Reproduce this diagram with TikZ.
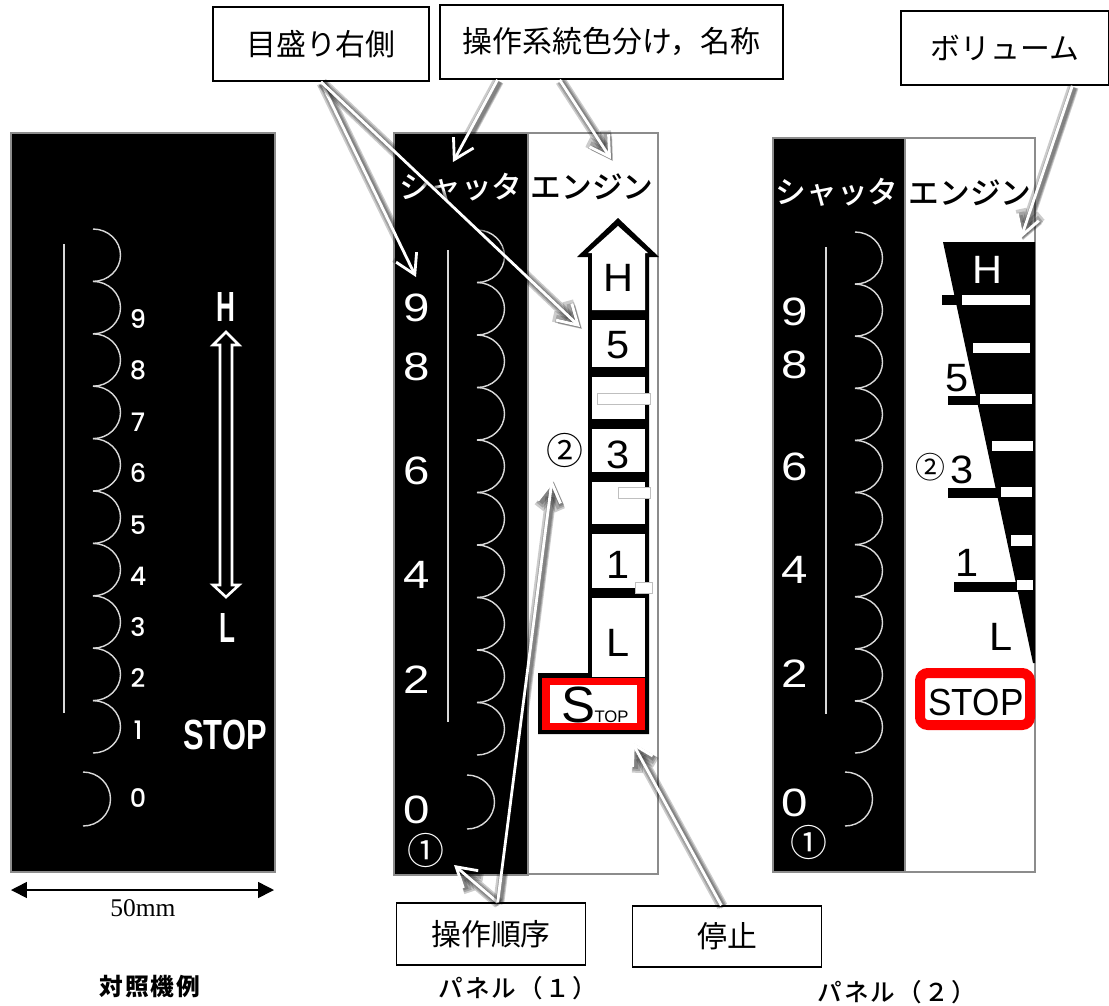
\documentclass[tikz,border=0pt]{standalone}
\usepackage{fontspec}
\setmainfont{Liberation Sans}
\newfontfamily\serifnum{Liberation Serif}
\newfontfamily\jpfont{Noto Sans CJK JP}
\newfontfamily\jpmed{Noto Sans CJK JP Medium}
\newfontfamily\roundfont{Poppins Medium}
\usetikzlibrary{arrows.meta,calc}
\newcommand{\fs}[1]{\fontsize{#1}{#1}\selectfont}
\newcommand{\scallops}[3]{\foreach \k in {0,...,9} {\draw[scaleline] (#1,#2+#3*\k) arc[start angle=-90,end angle=90,x radius=27.5,y radius=#3/2];}}
\newcommand{\whitearrow}[2]{
\foreach \w/\o in {11/1,8/1.5,5/2} {\draw[black,opacity=0.2,line width=\w*0.567pt,-{Straight Barb[length=10pt,width=12pt]}] ([shift={(\o,\o)}]#1) -- ([shift={(\o,\o)}]#2);}
\draw[white,line width=1.6pt,-{Straight Barb[length=11pt,width=13pt]}] (#1) -- (#2);}
\tikzset{x=0.02cm,y=-0.02cm,
  panel/.style={draw=black!45,fill=black,line width=0.6pt},
  frame/.style={draw=black!45,fill=white,line width=0.6pt},
  scaleline/.style={draw=white!85!black,line width=0.8pt},
  callout/.style={draw=black,fill=white,line width=1.1pt,inner sep=0pt,font=\jpfont\fs{17}},
  caption/.style={inner sep=0pt,anchor=west,font=\jpmed\fs{14}\addfontfeature{LetterSpace=9}},
  bigdig/.style={inner sep=0pt,xscale=1.2,transform shape,font=\fs{22.5}},
  smalldig/.style={inner sep=0pt,white,font=\roundfont\fs{14.5}},
  tallfont/.style={inner sep=0pt,white,xscale=0.62,transform shape,font=\bfseries\fs{24}},
  setnum/.style={inner sep=0pt,xscale=1.05,transform shape,font=\fs{22.5}},
  wedgebar/.style={fill=white,draw=none},
  ringnum/.style={inner sep=0pt,font=\jpfont\fs{21}},
  kana/.style={inner sep=0pt,font=\jpmed\fs{17.5}}}

\begin{document}
\begin{tikzpicture}
\useasboundingbox (0,0) rectangle (1109,1005);

% comparison panel
\draw[panel] (11,133) rectangle (275,872);
\draw[scaleline] (64,244) -- (64,713);
\scallops{93}{229}{52.4}
\draw[scaleline] (83,772) arc[start angle=-90,end angle=90,x radius=27.5,y radius=27];
\foreach \n/\y in {9/319,8/370,7/422,6/473,5/525,4/576,3/627,2/678,1/730,0/798} {\node[smalldig] (adig\n) at (138,\y) {\n};}
\node[tallfont] (aH) at (226,307) {H};
\node[tallfont] (aL) at (227,628) {L};
\node[tallfont,xscale=1.18] (aSTOP) at (225,735) {STOP};
\draw[white,line width=1.5pt] (226,332) -- (239,345) -- (232,345) -- (232,585) -- (239,585) -- (226,597) -- (213,585) -- (220,585) -- (220,345) -- (213,345) -- cycle;
\coordinate (aleft) at (11,890);
\coordinate (aright) at (274,890);
\draw[black,line width=0.9pt,{Triangle[length=9pt,width=9pt]}-{Triangle[length=9pt,width=9pt]}] (aleft) -- (aright);
\node[inner sep=0pt,font=\serifnum\fs{14.5}] (awidth) at (143,908) {50mm};
\node[inner sep=0pt,font=\jpfont\bfseries\fs{13.5}\addfontfeature{LetterSpace=8}] (acap) at (150,987) {対照機例};

% panel 1
\draw[frame] (394,133) rectangle (658,874);
\draw[panel] (394,133) rectangle (528,875);
\draw[scaleline] (448,250) -- (448,722);
\scallops{477}{230}{52.5}
\draw[scaleline] (467,775) arc[start angle=-90,end angle=90,x radius=27.5,y radius=27];
\foreach \n/\y in {9/308,8/367,6/471,4/575,2/680,0/810} {\node[bigdig,white] (bdig\n) at (417,\y) {\n};}
\node[ringnum,white] (bone) at (426,850) {①};
\node[kana,white] (bshut) at (461,187) {シャッタ};
\node[kana] (beng) at (592,187) {エンジン};
\node[ringnum] (btwo) at (565,450) {②};

\fill[black] (618,218) -- (659,257) -- (649,257) -- (649,734) -- (538,734) -- (538,673) -- (588,673) -- (588,257) -- (577,257) -- cycle;
\fill[white] (618,226) -- (648,253) -- (645,253) -- (645,310) -- (592,310) -- (592,253) -- (588,253) -- cycle;
\foreach \a/\b in {320/367,377/419,429/472,482/524,534/588,598/677} {\fill[white] (592,\a) rectangle (645,\b);}
\fill[white] (548,684) rectangle (639,724);
\draw[red,line width=4.4pt] (546,681.5) rectangle (641,726.5);
\foreach \x/\y/\r in {597/393/650,618/487/650,635/582/652} {\draw[black!25,fill=white,line width=0.5pt] (\x,\y) rectangle (\r,\y+11);}
\foreach \n/\y in {H/278,5/345,3/455,1/565,L/643} {\node[setnum] (bset\n) at (618,\y) {\n};}
\node[inner sep=0pt,anchor=base] (bstop) at (595,722) {\fs{29}S\kern-0.5pt\fs{9.5}TOP};

% panel 2
\draw[frame] (773,138) rectangle (1035,872);
\draw[panel] (773,138) rectangle (905,872);
\draw[scaleline] (826,247) -- (826,714);
\scallops{855}{232}{52.1}
\draw[scaleline] (845,772) arc[start angle=-90,end angle=90,x radius=27.5,y radius=27];
\foreach \n/\y in {9/312,8/365,6/467,4/570,2/674,0/803} {\node[bigdig,white] (cdig\n) at (795,\y) {\n};}
\node[ringnum,white] (cone) at (809,842) {①};
\node[kana,white] (cshut) at (837,192) {シャッタ};
\node[kana] (ceng) at (970,193) {エンジン};

\fill[black] (943,242) -- (1035,242) -- (1035,663) -- (1033,663) -- cycle;
\fill[black] (942,295) rectangle (958,305);
\fill[black] (948,396) rectangle (982,405);
\fill[black] (948,488) rectangle (1002,498);
\fill[black] (954,582) rectangle (1018,592);
\fill[wedgebar] (962,295) rectangle (1030,305);
\fill[wedgebar] (973,343) rectangle (1030,353);
\fill[wedgebar] (980,394) rectangle (1032,404);
\fill[wedgebar] (992,441) rectangle (1033,451);
\fill[wedgebar] (1001,487) rectangle (1032,497);
\fill[wedgebar] (1011,535) rectangle (1032,546);
\fill[wedgebar] (1017,580) rectangle (1033,590);
\node[setnum,white] (cH) at (987,270) {H};
\node[setnum] (cfive) at (957,378) {5};
\node[setnum] (cthree) at (962,470) {3};
\node[setnum] (cun) at (967,563) {1};
\node[setnum] (cL) at (1001,637) {L};
\node[ringnum,font=\jpfont\fs{17}] (ctwo) at (930,467) {②};
\draw[red,line width=5.7pt,rounded corners=4.5pt] (920,673) rectangle (1030,725);
\node[inner sep=0pt,xscale=0.93,transform shape,font=\fs{21.5}] (cstop) at (976,702) {STOP};

% labels
\node[callout,minimum width=217*0.567pt,minimum height=74*0.567pt] (scalebox) at (321,44) {目盛り右側};
\node[callout,minimum width=345*0.567pt,minimum height=74*0.567pt] (colourbox) at (611.5,42) {操作系統色分け，名称};
\node[callout,minimum width=209*0.567pt,minimum height=74*0.567pt] (volbox) at (1005,48) {ボリューム};
\node[callout,line width=0.9pt,minimum width=190*0.567pt,minimum height=62*0.567pt] (orderbox) at (491,934) {操作順序};
\node[callout,line width=0.9pt,minimum width=190*0.567pt,minimum height=61*0.567pt] (stopbox) at (727,936.5) {停止};
\node[caption] (bcap) at (438,988) {パネル（１）};
\node[caption] (ccap) at (817,992) {パネル（２）};

\coordinate (tipnine) at (416,277);
\coordinate (tipfive) at (580,327);
\coordinate (tipshut) at (453,162);
\coordinate (tipeng) at (611,159);
\coordinate (tipvol) at (1021,238);
\coordinate (tipone) at (454,865);
\coordinate (tiptwo) at (552,480);
\coordinate (tipstop) at (632,742);

\whitearrow{scalebox.south}{tipnine}
\whitearrow{scalebox.south}{tipfive}
\whitearrow{$(colourbox.south west)!0.17!(colourbox.south east)$}{tipshut}
\whitearrow{$(colourbox.south west)!0.35!(colourbox.south east)$}{tipeng}
\whitearrow{$(volbox.south west)!0.82!(volbox.south east)$}{tipvol}
\whitearrow{$(orderbox.north west)!0.535!(orderbox.north east)$}{tipone}
\whitearrow{$(orderbox.north west)!0.535!(orderbox.north east)$}{tiptwo}
\whitearrow{$(stopbox.north west)!0.47!(stopbox.north east)$}{tipstop}

\end{tikzpicture}
\end{document}
